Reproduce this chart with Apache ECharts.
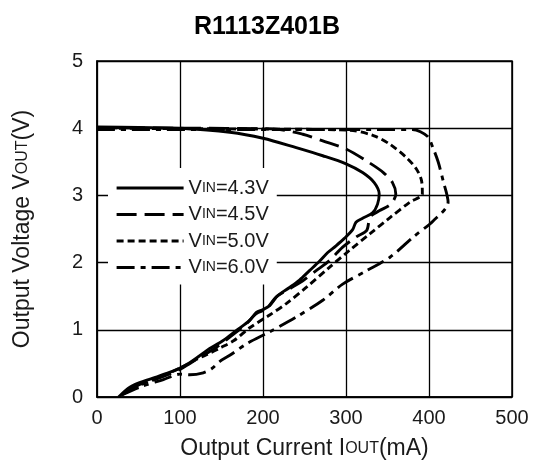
<!DOCTYPE html>
<html><head><meta charset="utf-8">
<script src="https://cdn.jsdelivr.net/npm/echarts@6/dist/echarts.min.js"></script>
<style>html,body{margin:0;padding:0;background:#fff}#c{width:534px;height:466px}</style>
</head><body><div id="c"></div>
<script>
const xTicks = [0, 100, 200, 300, 400, 500];
const yTicks = [0, 1, 2, 3, 4, 5];
const seriesNames = ['VIN=4.3V', 'VIN=4.5V', 'VIN=5.0V', 'VIN=6.0V'];
const v43 = [[0,4.02],[50,4.01],[100,4.0],[160,3.94],[200,3.85],[240,3.71],[272,3.59],[300,3.47],[320,3.34],[334,3.19],[340,3.02],[338,2.87],[332,2.74],[320,2.66],[312,2.6],[308,2.49],[298,2.36],[288,2.25],[278,2.15],[268,2.02],[256,1.88],[244,1.74],[232,1.63],[218,1.51],[208,1.36],[200,1.3],[192,1.26],[184,1.14],[168,0.99],[152,0.84],[132,0.69],[120,0.58],[108,0.48],[100,0.43],[84,0.35],[60,0.25],[40,0.15],[26,0]];
const v45 = [[0,4.01],[100,4.0],[212,3.99],[248,3.91],[272,3.81],[300,3.69],[325,3.51],[345,3.34],[356,3.19],[360,3.02],[354,2.87],[340,2.77],[329,2.68],[325,2.48],[312,2.38],[296,2.23],[280,2.03],[264,1.88],[248,1.73],[232,1.61],[216,1.49],[204,1.31],[192,1.24],[180,1.09],[160,0.89],[144,0.74],[124,0.59],[112,0.5],[100,0.41],[72,0.27],[44,0.15],[28,0.02]];
const v50 = [[0,4.0],[150,3.99],[304,3.97],[333,3.89],[353,3.76],[373,3.56],[385,3.39],[391,3.22],[392,3.02],[377,2.9],[353,2.67],[329,2.43],[304,2.18],[280,1.93],[252,1.63],[228,1.39],[208,1.22],[184,1.03],[165,0.84],[150,0.74],[132,0.63],[118,0.55],[100,0.43],[80,0.32],[52,0.18],[28,0.02]];
const v60 = [[0,3.98],[200,3.98],[380,3.98],[398,3.88],[405,3.7],[411,3.5],[417,3.22],[423,2.9],[405,2.62],[381,2.38],[353,2.08],[325,1.88],[296,1.68],[272,1.44],[240,1.19],[208,0.97],[180,0.79],[160,0.62],[148,0.53],[138,0.42],[128,0.36],[112,0.33],[100,0.34],[80,0.26],[52,0.15],[28,0.02]];
const seriesData = [v43, v45, v50, v60];
const dashes = ['solid', [20, 8], [7, 4], [18, 6, 5, 6]];

const chart = echarts.init(document.getElementById('c'));
const FONT = '"Liberation Sans", Arial, sans-serif';
const TXT = '#1a1a1a';
chart.setOption({
  backgroundColor: '#fff',
  animation: false,
  textStyle: { fontFamily: FONT },
  title: { text: 'R1113Z401B', left: 'center', top: 10,
    textStyle: { fontFamily: FONT, fontSize: 25, fontWeight: 'bold', color: '#000' } },
  grid: { left: 97, right: 22, top: 61, bottom: 69, show: true, borderColor: '#000', borderWidth: 1.5, backgroundColor: 'transparent' },
  legend: {
    orient: 'vertical', left: 108, top: 168,
    backgroundColor: '#fff', padding: [10, 8, 7, 7],
    itemWidth: 67, itemHeight: 14, itemGap: 6.5,
    data: seriesNames,
    itemStyle: { opacity: 0, color: 'transparent', borderWidth: 0 },
    lineStyle: { width: 3.2 },
    formatter: n => n.replace('IN', '{s|IN}'),
    textStyle: { fontFamily: FONT, fontSize: 20, color: TXT, lineHeight: 20,
      rich: { s: { fontFamily: FONT, fontSize: 14, color: TXT, lineHeight: 20 } } }
  },
  xAxis: {
    type: 'value', min: xTicks[0], max: xTicks[xTicks.length - 1], interval: 100,
    name: 'Output Current I{s|OUT}(mA)', nameLocation: 'middle', nameGap: 40,
    nameTextStyle: { fontFamily: FONT, fontSize: 23, color: TXT, rich: { s: { fontFamily: FONT, fontSize: 16, color: TXT } } },
    axisLine: { lineStyle: { color: '#000', width: 1.5 } },
    axisTick: { show: false },
    axisLabel: { fontFamily: FONT, fontSize: 20, color: TXT, margin: 11 },
    splitLine: { show: true, lineStyle: { color: '#000', width: 1.3 } }
  },
  yAxis: {
    type: 'value', min: yTicks[0], max: yTicks[yTicks.length - 1], interval: 1,
    name: 'Output Voltage V{s|OUT}(V)', nameLocation: 'middle', nameGap: 63,
    nameTextStyle: { fontFamily: FONT, fontSize: 23, color: TXT, rich: { s: { fontFamily: FONT, fontSize: 16, color: TXT } } },
    axisLine: { show: true, lineStyle: { color: '#000', width: 1.5 } },
    axisTick: { show: false },
    axisLabel: { fontFamily: FONT, fontSize: 20, color: TXT, margin: 14 },
    splitLine: { show: true, lineStyle: { color: '#000', width: 1.3 } }
  },
  series: seriesNames.map((n, i) => ({
    name: n, type: 'line', data: seriesData[i], symbol: 'none', smooth: 0.3,
    lineStyle: { color: '#000', width: 2.9, type: dashes[i] },
    itemStyle: { color: '#000' }, z: 3
  }))
});
</script></body></html>
